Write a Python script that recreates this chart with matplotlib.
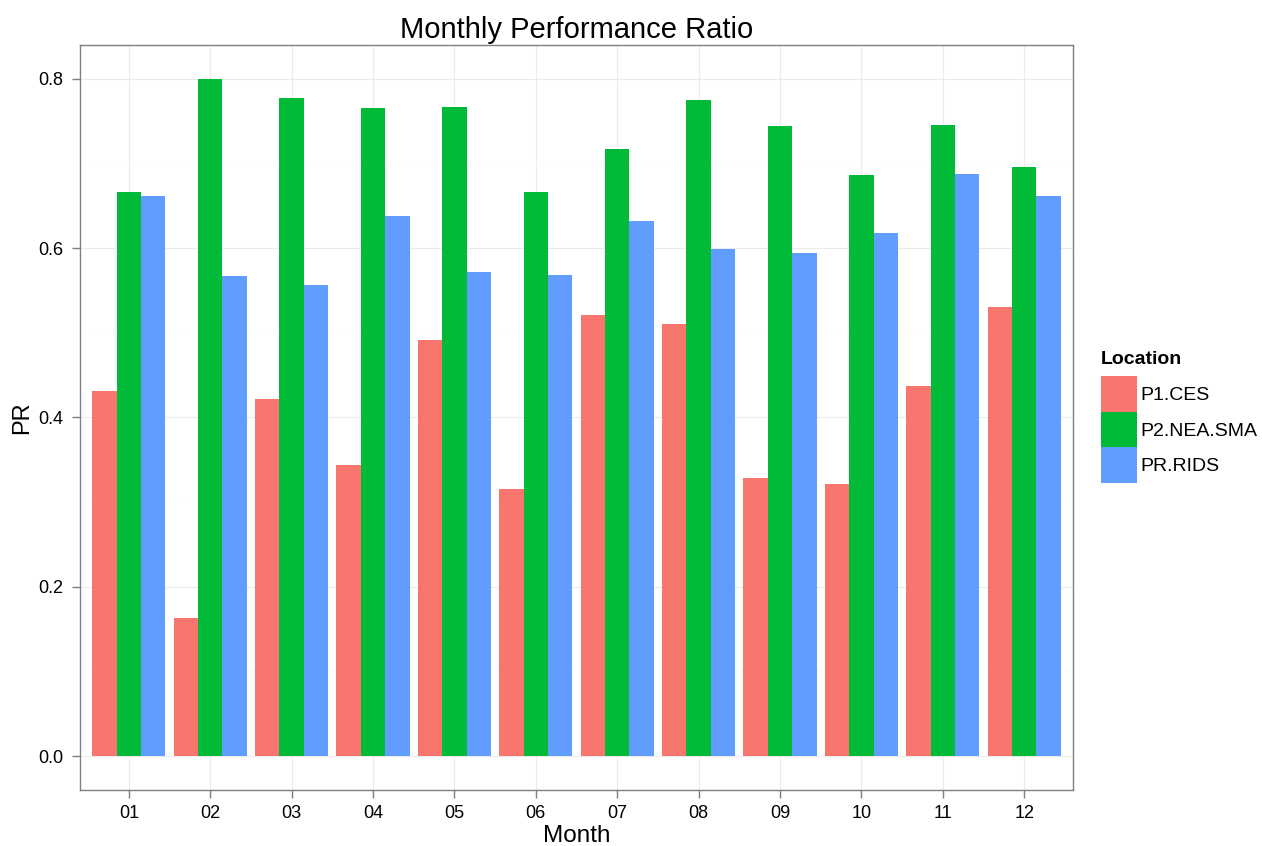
import numpy as np
import matplotlib
matplotlib.use('Agg')
import matplotlib.pyplot as plt
from matplotlib.patches import Patch

plt.rcParams['font.family'] = ['Liberation Sans', 'DejaVu Sans']

# data
months = ['01', '02', '03', '04', '05', '06', '07', '08', '09', '10', '11', '12']
locations = ['P1.CES', 'P2.NEA.SMA', 'PR.RIDS']
p1_ces = [0.431, 0.163, 0.422, 0.344, 0.491, 0.315, 0.521, 0.510, 0.329, 0.322, 0.437, 0.530]
p2_nea_sma = [0.666, 0.800, 0.777, 0.765, 0.767, 0.666, 0.717, 0.775, 0.744, 0.687, 0.746, 0.696]
pr_rids = [0.662, 0.567, 0.557, 0.638, 0.572, 0.568, 0.632, 0.599, 0.594, 0.618, 0.688, 0.662]
colours = ['#F8766D', '#00BA38', '#619CFF']

W, H = 1262, 846
fig = plt.figure(figsize=(W/100, H/100), dpi=100)
ax = fig.add_axes([80/W, 1 - 790/H, (1073 - 80)/W, (790 - 45)/H])

x = np.arange(1, len(months) + 1)
barW = 0.3
series = [p1_ces, p2_nea_sma, pr_rids]
for i in range(3):
    ax.bar(x + (i - 1)*barW, series[i], width=barW, color=colours[i],
           linewidth=0, zorder=3)

ax.set_xlim(0.4, 12.6)
ax.set_ylim(-0.04, 0.84)
ax.set_xticks(x)
ax.set_xticklabels(months)
ax.set_yticks([0.0, 0.2, 0.4, 0.6, 0.8])
ax.set_yticklabels(['0.0', '0.2', '0.4', '0.6', '0.8'])
ax.set_yticks([0.1, 0.3, 0.5, 0.7], minor=True)

ax.grid(True, which='major', color='#EBEBEB', linewidth=0.8, zorder=0)
ax.grid(True, which='minor', axis='y', color='#FAFAFA', linewidth=0.6, zorder=0)
ax.set_axisbelow(True)

for s in ax.spines.values():
    s.set_color('#7F7F7F')
    s.set_linewidth(1.0)
ax.tick_params(axis='both', which='major', length=6, width=1.0, color='#7F7F7F',
               labelsize=13, labelcolor='black')
ax.tick_params(axis='y', which='major', pad=6)
ax.tick_params(axis='x', which='major', pad=5)
ax.tick_params(axis='y', which='minor', length=0)

ax.set_xlabel('Month', fontsize=17.5, labelpad=2)
ax.set_ylabel('PR', fontsize=17, labelpad=4)
ax.set_title('Monthly Performance Ratio', fontsize=21, pad=5)

# legend keys: 35.5 px squares stacked with no gap
handles = [Patch(facecolor=colours[i], edgecolor='none', label=locations[i]) for i in range(3)]
fs = 14
keyPt = 35.5*72/100
hl = keyPt/fs
hh = (keyPt/fs - 0.245)/0.65
leg = fig.legend(handles=handles, title='Location', loc='upper left',
                 bbox_to_anchor=(1101/W, 1 - 351/H), frameon=False,
                 fontsize=fs, title_fontproperties={'weight': 'bold', 'size': fs},
                 handlelength=hl, handleheight=hh, labelspacing=0,
                 handletextpad=0.2, borderpad=0, borderaxespad=0,
                 alignment='left')
leg._legend_box.sep = 6

fig.savefig('out.png', dpi=100)
